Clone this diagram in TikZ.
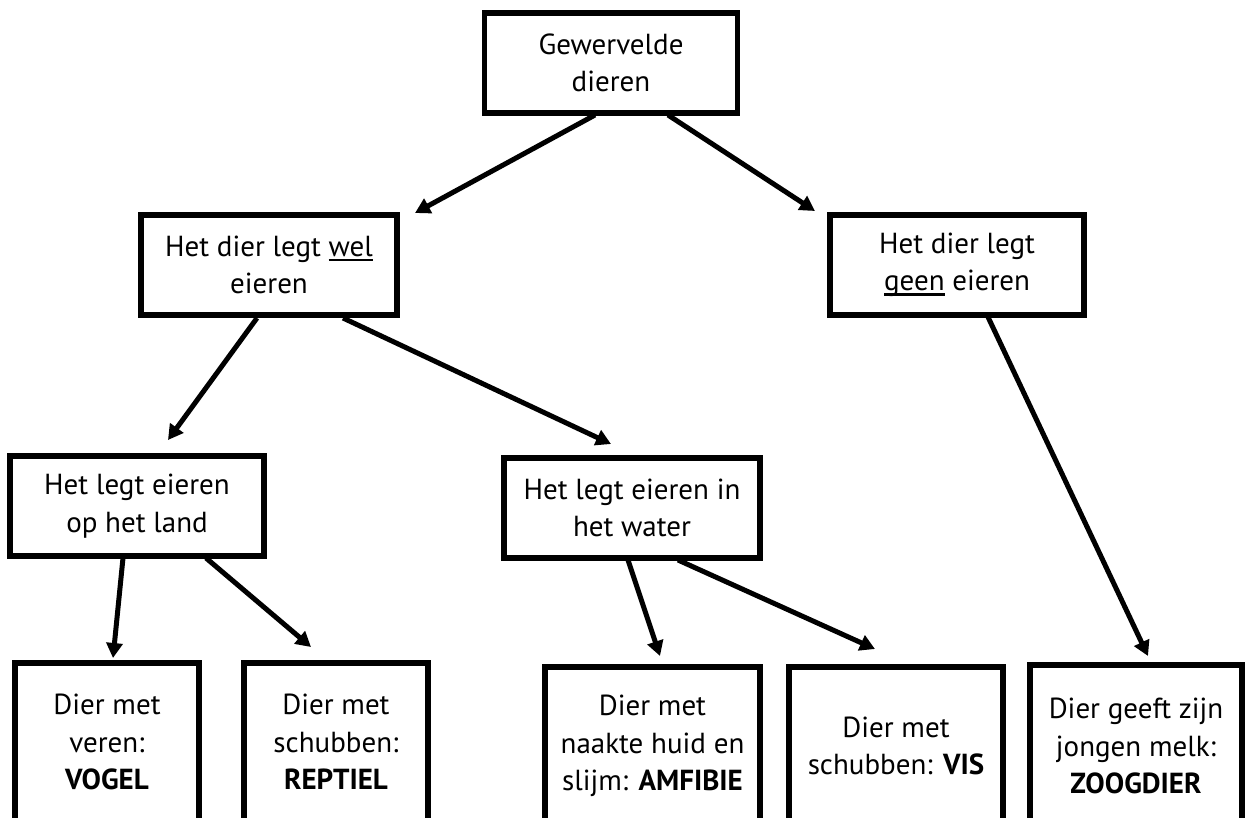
\documentclass[tikz,border=0pt]{standalone}
\usepackage{fontspec}
\setmainfont{PT Sans}
\usetikzlibrary{arrows.meta}
\newsavebox\ulbox
\newcommand\myul[1]{\sbox\ulbox{#1}\rlap{\rule[-4.6pt]{\wd\ulbox}{2.2pt}}\usebox\ulbox}
\begin{document}
\begin{tikzpicture}[x=1pt,y=-1pt,
  box/.style={draw=black, line width=5.5pt, rectangle, outer sep=0pt, inner sep=0pt,
    align=center, font=\fontsize{29}{37.5}\selectfont, text=black, fill=white},
  conn/.style={line width=5pt, -{Triangle[length=15pt,width=16pt]}},
]
\clip (0,0) rectangle (1246,817);
\useasboundingbox (0,0) rectangle (1246,817);
\fill[white] (0,0) rectangle (1246,817);

\node[box, minimum width=253pt, minimum height=100pt] (top) at (611,63) {Gewervelde\\dieren};
\node[box, minimum width=256pt, minimum height=100pt] (wel) at (269,265) {Het dier legt \myul{wel}\\eieren};
\node[box, minimum width=254pt, minimum height=100pt] (geen) at (957,265) {Het dier legt\\\myul{geen} eieren};
\node[box, minimum width=254pt, minimum height=100pt] (land) at (137,506) {Het legt eieren\\op het land};
\node[box, minimum width=256pt, minimum height=100pt] (water) at (632,508) {Het legt eieren in\\het water};
\node[box, minimum width=184pt, minimum height=158pt] (vogel) at (107,742) {Dier met\\veren:\\\textbf{VOGEL}};
\node[box, minimum width=184pt, minimum height=158pt] (reptiel) at (336,742) {Dier met\\schubben:\\\textbf{REPTIEL}};
\node[box, minimum width=215pt, minimum height=158pt] (amfibie) at (652.5,746) {Dier met\\naakte huid en\\slijm: \textbf{AMFIBIE}};
\node[box, minimum width=214pt, minimum height=158pt] (vis) at (896,746) {Dier met\\schubben: \textbf{VIS}};
\node[box, minimum width=212pt, minimum height=162pt] (zoogdier) at (1136,746) {Dier geeft zijn\\jongen melk:\\\textbf{ZOOGDIER}};

\draw[conn] ([shift={(-16,2)}]top.south) -- ([shift={(18,-2)}]wel.north east);
\draw[conn] ([shift={(57,2)}]top.south) -- ([shift={(-15,-4)}]geen.north west);
\draw[conn] ([shift={(-12,3)}]wel.south) -- ([shift={(31,-16)}]land.north);
\draw[conn] ([shift={(74,3)}]wel.south) -- ([shift={(-21,-14)}]water.north);
\draw[conn] ([shift={(-14,2)}]land.south) -- ([shift={(6,-5)}]vogel.north);
\draw[conn] ([shift={(69,2)}]land.south) -- ([shift={(-25,-16)}]reptiel.north);
\draw[conn] ([shift={(-4,2)}]water.south) -- ([shift={(7.5,-11)}]amfibie.north);
\draw[conn] ([shift={(46,2)}]water.south) -- ([shift={(-21,-18)}]vis.north);
\draw[conn] ([shift={(31,2)}]geen.south) -- ([shift={(12,-9)}]zoogdier.north);
\end{tikzpicture}
\end{document}
